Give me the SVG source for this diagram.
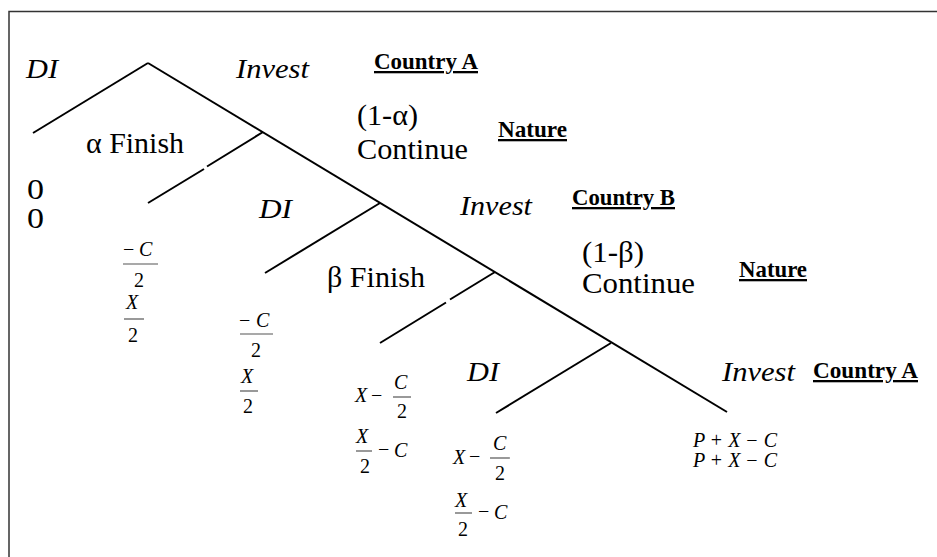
<svg xmlns="http://www.w3.org/2000/svg" width="937" height="557" viewBox="0 0 937 557">
<style>
.t{font-family:"Liberation Serif","Times New Roman",serif;font-size:29px;fill:#000}
.i{font-family:"Liberation Serif","Times New Roman",serif;font-size:28px;font-style:italic;fill:#000}
.b{font-family:"Liberation Serif","Times New Roman",serif;font-size:23px;font-weight:bold;text-decoration:underline;fill:#000}
.m{font-family:"Liberation Serif","Times New Roman",serif;font-size:20px;font-style:italic;fill:#000}
.u{font-family:"Liberation Serif","Times New Roman",serif;font-size:20px;font-style:normal;fill:#000}
.e{stroke:#000;stroke-width:2;fill:none;stroke-linecap:butt}
.bar{stroke:#555;stroke-width:1.2}
</style>
<rect width="937" height="557" fill="#fff"/>
<path d="M9,557 V11.5 H937" stroke="#333" stroke-width="1.5" fill="none"/>
<g id="connectors">
<line class="e" x1="148" y1="63" x2="33" y2="133"/>
<line class="e" x1="148" y1="63" x2="727" y2="412"/>
<line class="e" x1="263" y1="132" x2="207" y2="166.5"/>
<line class="e" x1="204" y1="169" x2="148" y2="203"/>
<line class="e" x1="380" y1="203" x2="265" y2="273"/>
<line class="e" x1="495" y1="272" x2="450" y2="299.5"/>
<line class="e" x1="446" y1="302.5" x2="380" y2="343"/>
<line class="e" x1="611" y1="343" x2="496" y2="413"/>
</g>
<g id="node-countryA-1">
<text class="i" x="26" y="78" textLength="32" lengthAdjust="spacingAndGlyphs">DI</text>
<text class="i" x="236" y="78" textLength="73" lengthAdjust="spacingAndGlyphs">Invest</text>
<text class="b" x="374" y="69" textLength="104" lengthAdjust="spacingAndGlyphs">Country A</text>
</g>
<g id="node-nature-1">
<text class="t" x="86" y="153" textLength="98" lengthAdjust="spacingAndGlyphs">α Finish</text>
<text class="t" x="357" y="125" textLength="61" lengthAdjust="spacingAndGlyphs">(1-α)</text>
<text class="t" x="357" y="159" textLength="111" lengthAdjust="spacingAndGlyphs">Continue</text>
<text class="b" x="498" y="137" textLength="69" lengthAdjust="spacingAndGlyphs">Nature</text>
</g>
<g id="node-countryB">
<text class="i" x="259" y="218" textLength="33" lengthAdjust="spacingAndGlyphs">DI</text>
<text class="i" x="460" y="215" textLength="72" lengthAdjust="spacingAndGlyphs">Invest</text>
<text class="b" x="572" y="205" textLength="103" lengthAdjust="spacingAndGlyphs">Country B</text>
</g>
<g id="node-nature-2">
<text class="t" x="327" y="287" textLength="98" lengthAdjust="spacingAndGlyphs">β Finish</text>
<text class="t" x="582" y="262" textLength="62" lengthAdjust="spacingAndGlyphs">(1-β)</text>
<text class="t" x="582" y="293" textLength="113" lengthAdjust="spacingAndGlyphs">Continue</text>
<text class="b" x="739" y="277" textLength="68" lengthAdjust="spacingAndGlyphs">Nature</text>
</g>
<g id="node-countryA-2">
<text class="i" x="467" y="381" textLength="32" lengthAdjust="spacingAndGlyphs">DI</text>
<text class="i" x="722" y="381" textLength="73" lengthAdjust="spacingAndGlyphs">Invest</text>
<text class="b" x="813" y="378" textLength="105" lengthAdjust="spacingAndGlyphs">Country A</text>
</g>
<g id="payoff-1">
<text class="t" x="27" y="199" textLength="17" lengthAdjust="spacingAndGlyphs">0</text>
<text class="t" x="27" y="228" textLength="17" lengthAdjust="spacingAndGlyphs">0</text>
</g>
<g id="payoff-2">
<text class="u" x="123" y="256">−</text>
<text class="m" x="139" y="256">C</text>
<line class="bar" x1="123" y1="264" x2="158" y2="264"/>
<text class="u" x="134" y="287">2</text>
<text class="m" x="126" y="309">X</text>
<line class="bar" x1="124" y1="319" x2="144" y2="319"/>
<text class="u" x="128" y="342">2</text>
</g>
<g id="payoff-3">
<text class="u" x="239" y="327">−</text>
<text class="m" x="256" y="327">C</text>
<line class="bar" x1="240" y1="334" x2="273" y2="334"/>
<text class="u" x="251" y="357">2</text>
<text class="m" x="241" y="383">X</text>
<line class="bar" x1="240" y1="391" x2="258" y2="391"/>
<text class="u" x="243" y="413">2</text>
</g>
<g id="payoff-4">
<text class="m" x="355" y="402">X</text>
<text class="u" x="371" y="402">−</text>
<text class="m" x="394" y="389">C</text>
<line class="bar" x1="393" y1="397" x2="411" y2="397"/>
<text class="u" x="397" y="418">2</text>
<text class="m" x="356" y="443">X</text>
<line class="bar" x1="356" y1="451" x2="372" y2="451"/>
<text class="u" x="360" y="473">2</text>
<text class="u" x="378" y="456">−</text>
<text class="m" x="394" y="457">C</text>
</g>
<g id="payoff-5">
<text class="m" x="453" y="464">X</text>
<text class="u" x="469" y="463">−</text>
<text class="m" x="493" y="450">C</text>
<line class="bar" x1="490" y1="458" x2="510" y2="458"/>
<text class="u" x="495" y="480">2</text>
<text class="m" x="455" y="507">X</text>
<line class="bar" x1="455" y1="513" x2="472" y2="513"/>
<text class="u" x="458" y="536">2</text>
<text class="u" x="478" y="518">−</text>
<text class="m" x="494" y="519">C</text>
</g>
<g id="payoff-6">
<text class="m" x="693" y="447" textLength="84" lengthAdjust="spacing">P <tspan class="u">+</tspan> X <tspan class="u">−</tspan> C</text>
<text class="m" x="693" y="467" textLength="84" lengthAdjust="spacing">P <tspan class="u">+</tspan> X <tspan class="u">−</tspan> C</text>
</g>
</svg>
